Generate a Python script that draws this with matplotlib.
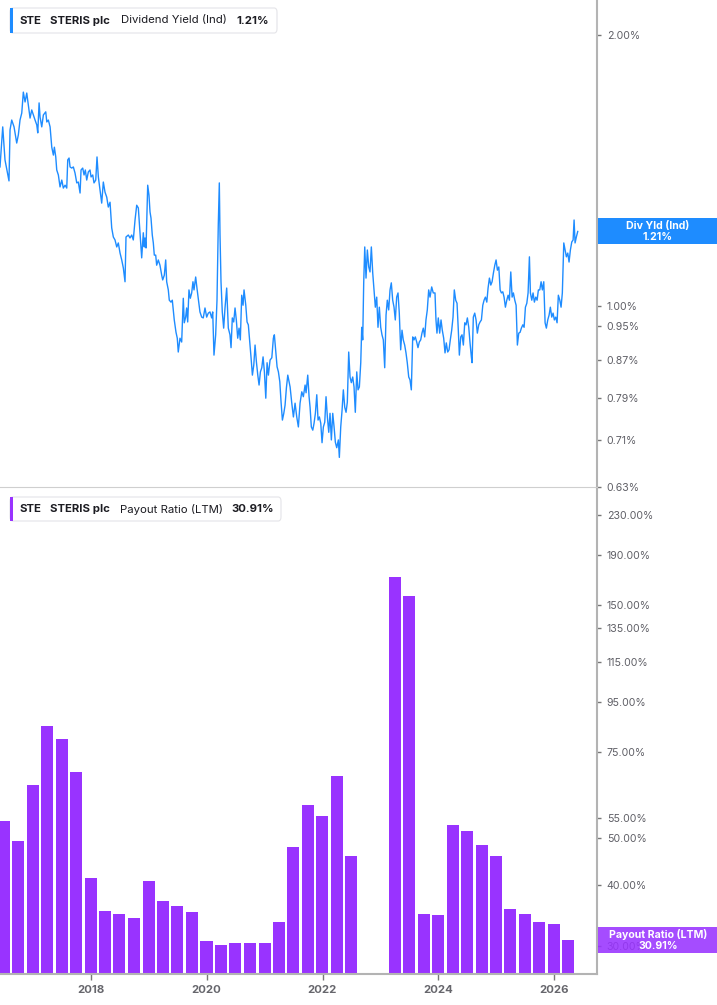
import matplotlib
matplotlib.use("Agg")
import matplotlib.pyplot as plt
from matplotlib.patches import FancyBboxPatch, Rectangle
from matplotlib.ticker import NullLocator, FixedLocator
import numpy as np
import pandas as pd

plt.rcParams['font.family'] = ['Inter', 'DejaVu Sans']

# ---------------- data ----------------
ticker = "STE"
company = "STERIS plc"
yield_name = "Dividend Yield (Ind)"
yield_short = "Div Yld (Ind)"
yield_last = 1.21
payout_name = "Payout Ratio (LTM)"
payout_last = 30.91

yield_years = [
    2016.430, 2016.477, 2016.516, 2016.585, 2016.603, 2016.632, 2016.672, 2016.718, 2016.746, 2016.775,
    2016.805, 2016.832, 2016.862, 2016.891, 2016.919, 2016.948, 2016.977, 2017.005, 2017.034, 2017.064,
    2017.081, 2017.104, 2017.121, 2017.150, 2017.178, 2017.219, 2017.237, 2017.264, 2017.294, 2017.323,
    2017.351, 2017.368, 2017.392, 2017.409, 2017.437, 2017.466, 2017.496, 2017.523, 2017.553, 2017.582,
    2017.599, 2017.622, 2017.639, 2017.668, 2017.696, 2017.725, 2017.755, 2017.782, 2017.812, 2017.829,
    2017.858, 2017.881, 2017.903, 2017.927, 2017.955, 2017.984, 2018.002, 2018.031, 2018.053, 2018.083,
    2018.105, 2018.128, 2018.157, 2018.186, 2018.214, 2018.243, 2018.273, 2018.300, 2018.330, 2018.359,
    2018.387, 2018.416, 2018.446, 2018.473, 2018.503, 2018.532, 2018.560, 2018.589, 2018.606, 2018.646,
    2018.675, 2018.705, 2018.732, 2018.762, 2018.791, 2018.819, 2018.848, 2018.877, 2018.905, 2018.922,
    2018.934, 2018.952, 2018.981, 2019.003, 2019.021, 2019.038, 2019.060, 2019.078, 2019.095, 2019.119,
    2019.136, 2019.164, 2019.193, 2019.223, 2019.240, 2019.268, 2019.292, 2019.309, 2019.337, 2019.354,
    2019.383, 2019.406, 2019.440, 2019.470, 2019.492, 2019.509, 2019.539, 2019.568, 2019.596, 2019.613,
    2019.637, 2019.654, 2019.672, 2019.694, 2019.717, 2019.741, 2019.763, 2019.781, 2019.810, 2019.832,
    2019.855, 2019.884, 2019.914, 2019.941, 2019.971, 2020.000, 2020.028, 2020.057, 2020.086, 2020.104,
    2020.126, 2020.155, 2020.178, 2020.190, 2020.200, 2020.218, 2020.230, 2020.247, 2020.269, 2020.293,
    2020.316, 2020.345, 2020.373, 2020.402, 2020.420, 2020.442, 2020.466, 2020.489, 2020.511, 2020.535,
    2020.558, 2020.580, 2020.604, 2020.627, 2020.644, 2020.674, 2020.696, 2020.718, 2020.743, 2020.765,
    2020.788, 2020.812, 2020.834, 2020.857, 2020.881, 2020.903, 2020.926, 2020.950, 2020.972, 2020.995,
    2021.019, 2021.041, 2021.064, 2021.093, 2021.123, 2021.150, 2021.167, 2021.192, 2021.214, 2021.237,
    2021.261, 2021.283, 2021.306, 2021.330, 2021.352, 2021.375, 2021.399, 2021.421,
    2021.439, 2021.468, 2021.496, 2021.525, 2021.554, 2021.582, 2021.611, 2021.641, 2021.668, 2021.698,
    2021.715, 2021.744,
    2021.767, 2021.784, 2021.806, 2021.831, 2021.853, 2021.876, 2021.900, 2021.922, 2021.945, 2021.969,
    2021.991, 2022.014, 2022.038, 2022.060, 2022.083, 2022.107, 2022.129, 2022.152, 2022.176, 2022.199,
    2022.221, 2022.245, 2022.273, 2022.290, 2022.314, 2022.337, 2022.359, 2022.383, 2022.406, 2022.428,
    2022.452, 2022.475, 2022.497, 2022.521, 2022.544, 2022.566, 2022.591, 2022.613, 2022.636, 2022.660,
    2022.677, 2022.694, 2022.711, 2022.729, 2022.751, 2022.774, 2022.798, 2022.820, 2022.843, 2022.867,
    2022.889, 2022.912, 2022.936, 2022.958, 2022.981, 2023.005, 2023.027, 2023.050, 2023.074, 2023.097,
    2023.119, 2023.143, 2023.166, 2023.188, 2023.212, 2023.235, 2023.257, 2023.281, 2023.304, 2023.326,
    2023.350, 2023.373, 2023.395, 2023.419, 2023.442, 2023.464, 2023.489, 2023.511, 2023.534, 2023.558,
    2023.580, 2023.603, 2023.627, 2023.649, 2023.672, 2023.696, 2023.718, 2023.741, 2023.765, 2023.787,
    2023.810, 2023.834, 2023.857, 2023.886, 2023.913,
    2023.943, 2023.960, 2023.977, 2024.000, 2024.024, 2024.047, 2024.069, 2024.093, 2024.116, 2024.138,
    2024.162, 2024.185, 2024.207, 2024.231, 2024.254, 2024.276, 2024.300, 2024.323, 2024.345, 2024.363,
    2024.387, 2024.409, 2024.432, 2024.456, 2024.478, 2024.501, 2024.525, 2024.547, 2024.570, 2024.582,
    2024.604, 2024.628, 2024.651, 2024.673, 2024.697, 2024.720, 2024.743, 2024.767, 2024.789, 2024.812,
    2024.836, 2024.858, 2024.881, 2024.905, 2024.927, 2024.950, 2024.974, 2024.996, 2025.019, 2025.043,
    2025.066, 2025.088, 2025.112, 2025.134, 2025.157, 2025.181, 2025.204, 2025.226, 2025.250, 2025.273,
    2025.295, 2025.319, 2025.342, 2025.364, 2025.388, 2025.411, 2025.433, 2025.458, 2025.480, 2025.503,
    2025.527, 2025.549, 2025.572, 2025.589, 2025.613, 2025.635, 2025.658, 2025.682, 2025.705, 2025.727,
    2025.751, 2025.774, 2025.796, 2025.820, 2025.843, 2025.865, 2025.889, 2025.912, 2025.934, 2025.958,
    2025.981, 2026.003, 2026.027, 2026.050, 2026.072, 2026.097, 2026.119, 2026.141, 2026.166, 2026.188,
    2026.211, 2026.235, 2026.257, 2026.280, 2026.304, 2026.327, 2026.344, 2026.361, 2026.383, 2026.407,
]

yield_values = [
    1.427, 1.581, 1.453, 1.377, 1.569, 1.609, 1.581, 1.517, 1.549, 1.609,
    1.638, 1.728, 1.685, 1.724, 1.672, 1.617, 1.651, 1.630, 1.609, 1.589,
    1.557, 1.681, 1.621, 1.581, 1.630, 1.643, 1.601, 1.609, 1.581, 1.501,
    1.471, 1.501, 1.464, 1.416, 1.398, 1.356, 1.380, 1.352, 1.362, 1.352,
    1.453, 1.460, 1.427, 1.423, 1.427, 1.405, 1.370, 1.373, 1.335, 1.416,
    1.423, 1.398, 1.416, 1.380, 1.409, 1.416, 1.391, 1.398, 1.370, 1.380,
    1.464, 1.391, 1.345, 1.301, 1.373, 1.338, 1.321, 1.288, 1.304, 1.221,
    1.193, 1.184, 1.163, 1.175, 1.145, 1.125, 1.102, 1.064, 1.193, 1.199,
    1.190, 1.199, 1.184, 1.246, 1.294, 1.285, 1.206, 1.131, 1.206, 1.163,
    1.190, 1.160, 1.362, 1.328, 1.272, 1.252, 1.199, 1.175, 1.139, 1.139,
    1.110, 1.125, 1.110, 1.082, 1.069, 1.082, 1.125, 1.064, 1.042, 1.015,
    1.010, 1.015, 0.965, 0.935, 0.921, 0.889, 0.921, 0.912, 1.020, 0.958,
    0.972, 0.995, 0.960, 1.042, 1.020, 1.034, 1.064, 1.042, 1.077, 1.047,
    1.020, 0.985, 0.972, 0.970, 0.995, 0.972, 0.982, 0.985, 0.970, 0.985,
    0.882, 0.929, 1.015, 1.131, 1.230, 1.370, 1.199, 1.064, 0.985, 0.945,
    0.995, 1.047, 0.945, 0.929, 0.899, 0.970, 0.960, 0.995, 0.965, 0.921,
    0.945, 0.917, 1.028, 1.002, 1.042, 1.002, 0.960, 0.953, 0.912, 0.876,
    0.838, 0.860, 0.905, 0.867, 0.838, 0.817, 0.845, 0.854, 0.878, 0.845,
    0.790, 0.865, 0.838, 0.871, 0.876, 0.921, 0.929, 0.889, 0.856, 0.845,
    0.824, 0.782, 0.747, 0.760, 0.776, 0.811, 0.838, 0.824,
    0.813, 0.780, 0.753, 0.780, 0.753, 0.734, 0.780, 0.803, 0.793, 0.817,
    0.801, 0.838,
    0.793, 0.772, 0.734, 0.728, 0.741, 0.760, 0.797, 0.747, 0.753, 0.741,
    0.705, 0.734, 0.743, 0.793, 0.753, 0.724, 0.760, 0.710, 0.760, 0.734,
    0.706, 0.696, 0.710, 0.679, 0.734, 0.766, 0.807, 0.772, 0.762, 0.782,
    0.889, 0.834, 0.822, 0.834, 0.813, 0.762, 0.845, 0.807, 0.813, 0.865,
    0.947, 0.917, 1.061, 1.163, 1.074, 1.154, 1.105, 1.091, 1.163, 1.088,
    1.042, 0.997, 1.023, 0.947, 0.997, 0.947, 0.929, 0.917, 0.854, 0.977,
    1.015, 0.990, 1.042, 1.061, 1.015, 0.997, 0.965, 1.023, 1.034, 0.982,
    0.894, 0.940, 0.917, 0.905, 0.887, 0.865, 0.834, 0.828, 0.807, 0.924,
    0.917, 0.924, 0.912, 0.899, 0.912, 0.917, 0.933, 0.945, 0.924, 0.965,
    0.990, 1.042, 1.023, 1.050, 1.034,
    1.034, 0.965, 0.933, 0.970, 0.933, 0.965, 0.940, 0.921, 0.887, 0.910,
    0.889, 0.894, 0.917, 0.940, 0.972, 1.042, 1.015, 1.007, 0.940, 0.882,
    0.924, 0.929, 0.905, 0.958, 0.953, 0.970, 0.947, 0.910, 0.878, 0.865,
    0.972, 0.982, 0.965, 0.933, 0.953, 0.960, 0.965, 1.002, 1.015, 1.023,
    1.010, 1.047, 1.074, 1.055, 1.064, 1.088, 1.110, 1.125, 1.096, 1.105,
    1.042, 1.034, 1.037, 1.023, 0.997, 1.015, 1.028, 1.015, 1.091, 1.023,
    1.034, 1.015, 1.002, 0.905, 0.933, 0.935, 0.945, 0.953, 0.947, 0.997,
    1.007, 1.034, 1.134, 1.034, 1.015, 1.034, 1.010, 1.023, 1.015, 1.042,
    1.042, 1.064, 1.042, 1.064, 0.958, 0.945, 0.965, 0.977, 0.997, 0.972,
    0.982, 0.965, 0.972, 0.958, 1.028, 1.015, 0.997, 1.034, 1.175, 1.154,
    1.134, 1.145, 1.119, 1.154, 1.178, 1.184, 1.246, 1.175, 1.193, 1.210,
]

payout_dates = [
    "2016-06-30", "2016-09-30", "2016-12-31", "2017-03-31", "2017-06-30", "2017-09-30",
    "2017-12-31", "2018-03-31", "2018-06-30", "2018-09-30", "2018-12-31", "2019-03-31",
    "2019-06-30", "2019-09-30", "2019-12-31", "2020-03-31", "2020-06-30", "2020-09-30",
    "2020-12-31", "2021-03-31", "2021-06-30", "2021-09-30", "2021-12-31", "2022-03-31",
    "2022-06-30", "2023-03-31", "2023-06-30", "2023-09-30", "2023-12-31", "2024-03-31",
    "2024-06-30", "2024-09-30", "2024-12-31", "2025-03-31", "2025-06-30", "2025-09-30",
    "2025-12-31", "2026-03-31",
]
payout_values = [
    54.1, 49.2, 64.2, 84.8, 79.8, 68.2,
    41.3, 35.4, 34.9, 34.2, 40.9, 37.1,
    36.2, 35.2, 30.7, 30.1, 30.5, 30.4,
    30.4, 33.7, 47.9, 58.4, 55.4, 67.0,
    45.9, 171.6, 156.8, 34.9, 34.7, 53.1,
    51.6, 48.3, 46.0, 35.7, 34.9, 33.6,
    33.3, 30.91,
]

yield_ticks = [0.63, 0.71, 0.79, 0.87, 0.95, 1.00, 2.00]
payout_ticks = [30, 40, 50, 55, 75, 95, 115, 135, 150, 190, 230]
year_ticks = ["2018", "2020", "2022", "2024", "2026"]

# ---------------- style ----------------
BLUE = "#1e8cff"
PURPLE = "#9933ff"
SPINE = "#b3b3b3"
TICKLBL = "#5f5f66"

W, H = 717, 1005
fig = plt.figure(figsize=(W / 100, H / 100), dpi=100)
fig.patch.set_facecolor("white")


def px_axes(x0, y0, x1, y1):
    return fig.add_axes([x0 / W, 1 - y1 / H, (x1 - x0) / W, (y1 - y0) / H])


def fx(x):
    return x / W


def fy(y):
    return 1 - y / H


def decyear(y):
    yr = int(np.floor(y))
    s = pd.Timestamp(year=yr, month=1, day=1)
    e = pd.Timestamp(year=yr + 1, month=1, day=1)
    return s + (e - s) * (y - yr)


n = min(len(yield_years), len(yield_values))
ydates = [decyear(v) for v in yield_years[:n]]
yvals = yield_values[:n]
pdates = pd.to_datetime(payout_dates)

xmin = decyear(2016.43)
xmax = decyear(2026.74)

ax1 = px_axes(0, 0, 597, 487)
ax2 = px_axes(0, 489, 597, 974)

for ax in (ax1, ax2):
    ax.set_facecolor("none")
    ax.spines["left"].set_visible(False)
    ax.spines["top"].set_visible(False)
    ax.spines["right"].set_color(SPINE)
    ax.spines["right"].set_linewidth(1.5)
    ax.yaxis.tick_right()
    ax.set_yscale("log")
    ax.yaxis.set_minor_locator(NullLocator())
    ax.tick_params(axis="y", which="major", direction="out", length=3, width=1,
                   color="#777777", labelcolor=TICKLBL, labelsize=7.6, pad=4)
    ax.set_xlim(xmin, xmax)

# top panel
ax1.plot(ydates, yvals, color=BLUE, lw=1.0, solid_joinstyle="round")
ax1.set_ylim(0.6295, 2.187)
ax1.yaxis.set_major_locator(FixedLocator(yield_ticks))
ax1.set_yticklabels([f"{v:.2f}%" for v in yield_ticks])
ax1.set_xticks([])
ax1.spines["bottom"].set_color("#cfcfcf")
ax1.spines["bottom"].set_linewidth(0.8)

# bottom panel (bars start below the visible range on the log axis)
base = 1.0
ax2.bar(pdates, [v - base for v in payout_values], width=76, bottom=base,
        color=PURPLE, align="center")
ax2.set_ylim(26.3, 260)
ax2.yaxis.set_major_locator(FixedLocator(payout_ticks))
ax2.set_yticklabels([f"{v:.2f}%" for v in payout_ticks])
ax2.spines["bottom"].set_color(SPINE)
ax2.spines["bottom"].set_linewidth(1.5)
ax2.set_xticks([pd.Timestamp(f"{t}-01-01") for t in year_ticks])
ax2.set_xticklabels(year_ticks, fontweight="bold")
ax2.tick_params(axis="x", direction="out", length=4, width=1, color="#777777",
                labelcolor="#66666c", labelsize=8.2, pad=4)


# legends
def legend_box(y0, y1, x1, color, parts):
    box = FancyBboxPatch((fx(10), fy(y1)), fx(x1) - fx(10), fy(y0) - fy(y1),
                         boxstyle="round,pad=0,rounding_size=0.004",
                         transform=fig.transFigure, facecolor="white",
                         edgecolor="#e4e4e8", lw=0.8, zorder=5)
    fig.add_artist(box)
    acc = Rectangle((fx(10), fy(y1)), fx(13) - fx(10), fy(y0) - fy(y1),
                    transform=fig.transFigure, facecolor=color, edgecolor="none", zorder=6)
    fig.add_artist(acc)
    yc = (y0 + y1) / 2
    for x, txt, bold in parts:
        fig.text(fx(x), fy(yc), txt, fontsize=8.2, fontweight="bold" if bold else "normal",
                 color="#1c1c22", va="center", ha="left", zorder=7)


legend_box(8, 33, 277, BLUE, [(20, ticker, True), (50, company, True),
                              (121, yield_name, False), (236, f"{yield_last:.2f}%", True)])
legend_box(497, 521, 281, PURPLE, [(20, ticker, True), (50, company, True),
                                   (120, payout_name, False), (231, f"{payout_last:.2f}%", True)])


# right value labels
def value_label(ax, val, color, line1, alpha):
    fig.canvas.draw()
    disp = ax.transData.transform((0, val))
    yfig = fig.transFigure.inverted().transform(disp)[1]
    hh = 26 / H
    r = Rectangle((fx(598), yfig - hh / 2), fx(717) - fx(598), hh,
                  transform=fig.transFigure, facecolor=color, edgecolor="none",
                  alpha=alpha, zorder=5)
    fig.add_artist(r)
    fig.text(fx(658), yfig + 5 / H, line1, fontsize=7.6, fontweight="bold", color="white",
             ha="center", va="center", zorder=6)
    fig.text(fx(658), yfig - 6 / H, f"{val:.2f}%", fontsize=7.6, fontweight="bold",
             color="white", ha="center", va="center", zorder=6)


value_label(ax1, yield_last, BLUE, yield_short, 1.0)
value_label(ax2, payout_last, PURPLE, payout_name, 0.88)

fig.savefig("out.png", dpi=100, facecolor="white")
